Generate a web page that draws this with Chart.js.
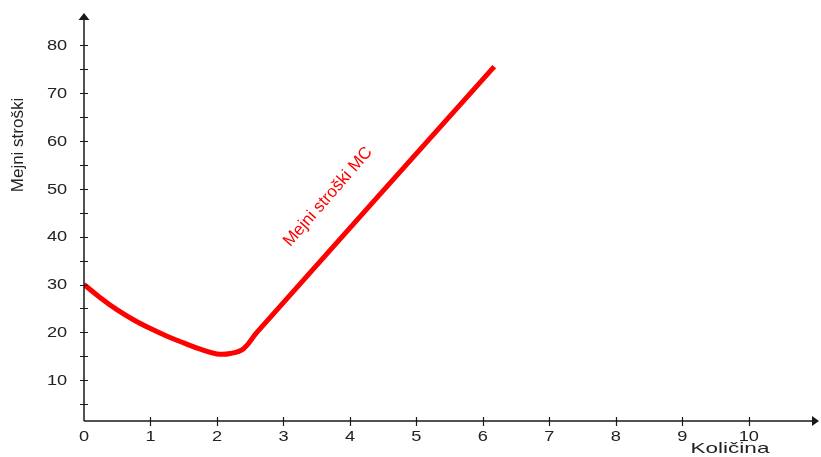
<!DOCTYPE html>
<html>
<head>
<meta charset="utf-8">
<script src="https://cdn.jsdelivr.net/npm/chart.js@4"></script>
<style>
  body { margin: 0; background: #fff; }
  canvas { display: block; }
</style>
</head>
<body>
<canvas id="mc-chart" width="821" height="457"></canvas>
<script>
// Marginal cost curve (quantity -> cost)
const qty = [0, 0.25, 0.5, 0.75, 1, 1.25, 1.5, 1.75, 2, 2.2, 2.4, 2.6, 6.17];
const mc = [30, 27.2, 24.7, 22.6, 20.8, 19.2, 17.8, 16.5, 15.5, 15.6, 16.6, 20.0, 75.5];

const xTicks = [0, 1, 2, 3, 4, 5, 6, 7, 8, 9, 10];
const yTicks = [10, 20, 30, 40, 50, 60, 70, 80];
const yMinorTicks = [5, 15, 25, 35, 45, 55, 65, 75];

const xTitle = 'Količina';
const yTitle = 'Mejni stroški';
const curveLabel = 'Mejni stroški MC';

// where the rotated curve label sits (in data units)
const curveLabelAt = { x: 3.67, y: 48.3 };

const axisColor = '#1a1a1a';
const textColor = '#222';

// stretched text like the original picture
function wideText(ctx, txt, x, y, stretch) {
    ctx.save();
    ctx.translate(x, y);
    ctx.scale(stretch, 1);
    ctx.fillText(txt, 0, 0);
    ctx.restore();
}

const axesPlugin = {
    id: 'handAxes',
    afterDraw(chart) {
        const ctx = chart.ctx;
        const xs = chart.scales.x;
        const ys = chart.scales.y;
        const area = chart.chartArea;
        const x0 = xs.getPixelForValue(0);
        const yBase = area.bottom;

        ctx.save();
        ctx.strokeStyle = axisColor;
        ctx.fillStyle = axisColor;
        ctx.lineWidth = 1.5;

        // axis lines
        ctx.beginPath();
        ctx.moveTo(x0, yBase);
        ctx.lineTo(x0, area.top + 5);
        ctx.moveTo(x0, yBase);
        ctx.lineTo(area.right - 5, yBase);
        ctx.stroke();

        // arrow heads
        ctx.beginPath();
        ctx.moveTo(x0, area.top);
        ctx.lineTo(x0 - 5.5, area.top + 7);
        ctx.lineTo(x0 + 5.5, area.top + 7);
        ctx.closePath();
        ctx.fill();
        ctx.beginPath();
        ctx.moveTo(area.right + 1, yBase);
        ctx.lineTo(area.right - 6, yBase - 5);
        ctx.lineTo(area.right - 6, yBase + 5);
        ctx.closePath();
        ctx.fill();

        // tick marks crossing the axes
        ctx.lineWidth = 1.2;
        ctx.beginPath();
        yTicks.concat(yMinorTicks).forEach(v => {
            const py = Math.round(ys.getPixelForValue(v)) + 0.5;
            ctx.moveTo(x0 - 4, py);
            ctx.lineTo(x0 + 4, py);
        });
        xTicks.slice(1).forEach(v => {
            const px = Math.round(xs.getPixelForValue(v)) + 0.5;
            ctx.moveTo(px, yBase - 4);
            ctx.lineTo(px, yBase + 5);
        });
        ctx.stroke();

        // tick labels
        ctx.fillStyle = textColor;
        ctx.font = '14px "Liberation Sans", Arial, sans-serif';
        ctx.textAlign = 'center';
        ctx.textBaseline = 'middle';
        yTicks.forEach(v => {
            wideText(ctx, String(v), x0 - 27, ys.getPixelForValue(v) + 1, 1.3);
        });
        xTicks.forEach(v => {
            wideText(ctx, String(v), xs.getPixelForValue(v), yBase + 16, 1.3);
        });

        // axis titles
        ctx.font = '15px "Liberation Sans", Arial, sans-serif';
        wideText(ctx, xTitle, 730, 449, 1.5);

        ctx.save();
        ctx.translate(18, 145);
        ctx.rotate(-Math.PI / 2);
        ctx.font = '17px "Liberation Sans", Arial, sans-serif';
        ctx.fillText(yTitle, 0, 0);
        ctx.restore();

        // label along the curve
        ctx.save();
        ctx.translate(xs.getPixelForValue(curveLabelAt.x), ys.getPixelForValue(curveLabelAt.y));
        ctx.rotate(-49 * Math.PI / 180);
        ctx.fillStyle = '#ff0000';
        ctx.font = '17px "Liberation Sans", Arial, sans-serif';
        ctx.fillText(curveLabel, 0, 0);
        ctx.restore();

        ctx.restore();
    }
};

new Chart(document.getElementById('mc-chart'), {
    type: 'line',
    data: {
        datasets: [{
            label: curveLabel,
            data: qty.map((q, i) => ({ x: q, y: mc[i] })),
            borderColor: '#ff0000',
            borderWidth: 5,
            borderCapStyle: 'butt',
            borderJoinStyle: 'round',
            tension: 0.4,
            pointRadius: 0,
            fill: false
        }]
    },
    options: {
        responsive: false,
        animation: false,
        devicePixelRatio: 1,
        layout: { padding: { left: 84, right: 3, top: 13, bottom: 36 } },
        plugins: {
            legend: { display: false },
            tooltip: { enabled: false }
        },
        scales: {
            x: { type: 'linear', min: 0, max: 11.04, display: false },
            y: { type: 'linear', min: 1.5, max: 86.7, display: false }
        }
    },
    plugins: [axesPlugin]
});
</script>
</body>
</html>
